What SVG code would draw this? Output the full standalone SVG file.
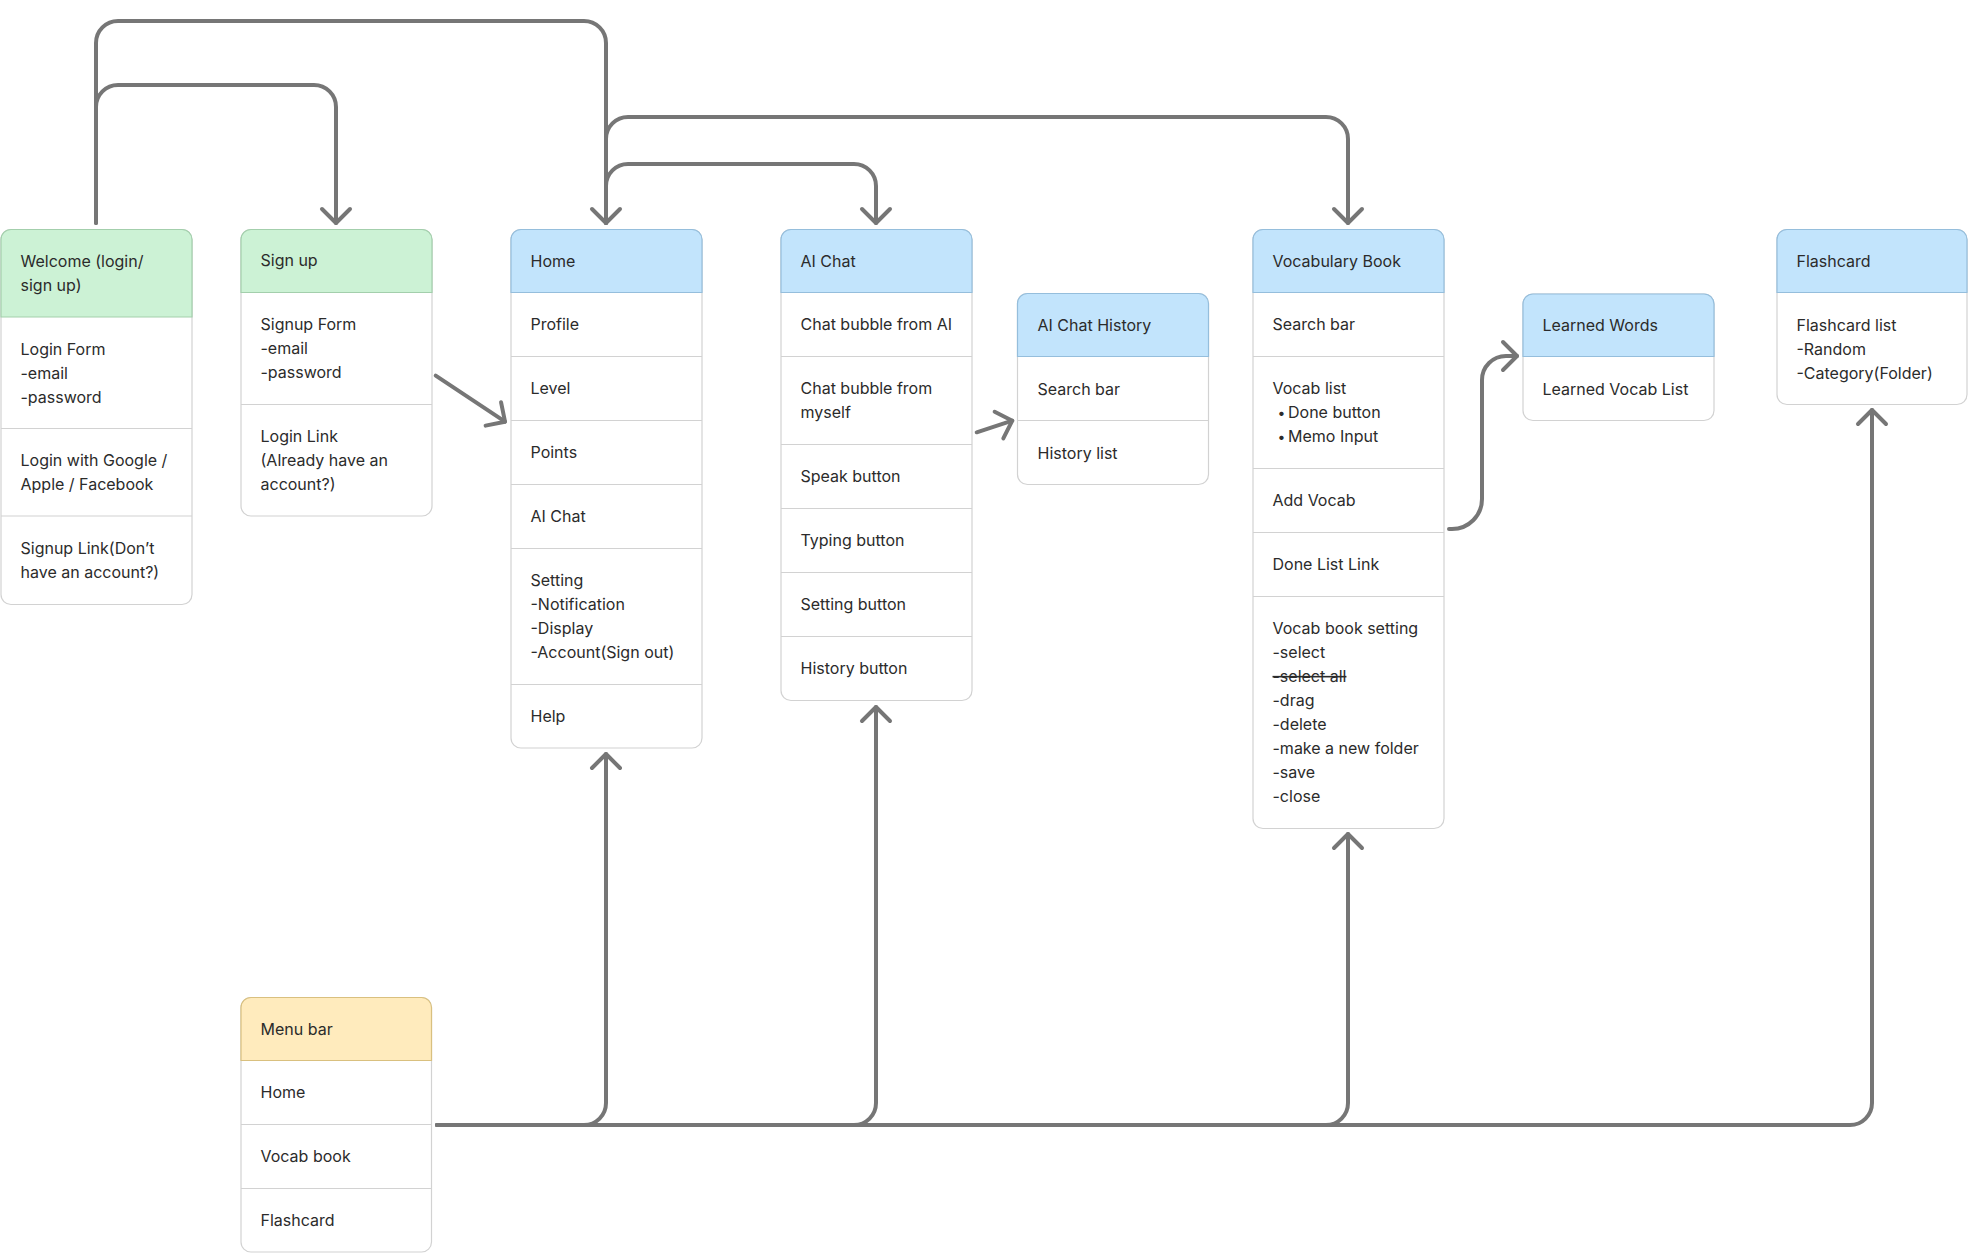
<svg xmlns="http://www.w3.org/2000/svg" width="1968" height="1253" viewBox="0 0 1968 1253">
<defs>
<style>
.body{fill:#ffffff;stroke:#d2d2d2;stroke-width:1.2}
.hg{fill:#ccf2d5;stroke:#a3cfac;stroke-width:1.2}
.hb{fill:#c2e4fc;stroke:#95bedc;stroke-width:1.2}
.hy{fill:#ffebbd;stroke:#d9c07f;stroke-width:1.2}
.div{stroke:#d2d2d2;stroke-width:1.2}
text{font-family:Inter,"Noto Sans","Liberation Sans",sans-serif;font-size:16px;fill:#2b2b2b;transform:translate(0px,-1px)}
.conn path{fill:none;stroke:#767676;stroke-width:4;stroke-linecap:round;stroke-linejoin:round}
.strike{text-decoration:line-through}
</style>
<marker id="arr" markerUnits="userSpaceOnUse" markerWidth="40" markerHeight="40" viewBox="-20 -20 40 40" refX="0" refY="0" orient="auto">
<path d="M-14,-14 L0,0 L-14,14" fill="none" stroke="#767676" stroke-width="4" stroke-linecap="round" stroke-linejoin="round"/>
</marker>
</defs>
<rect width="1968" height="1253" fill="#ffffff"/>

<g id="connectors" class="conn">
<path d="M96,223 V43 A22,22 0 0 1 118,21 H584 A22,22 0 0 1 606,43 V223" marker-end="url(#arr)"/>
<path d="M96,223 V107 A22,22 0 0 1 118,85 H314 A22,22 0 0 1 336,107 V223" marker-end="url(#arr)"/>
<path d="M606,223 V186 A22,22 0 0 1 628,164 H854 A22,22 0 0 1 876,186 V223" marker-end="url(#arr)"/>
<path d="M606,223 V139 A22,22 0 0 1 628,117 H1326 A22,22 0 0 1 1348,139 V223" marker-end="url(#arr)"/>
<path d="M435.7,375.7 L505,421.7" marker-end="url(#arr)"/>
<path d="M976.7,432.3 L1012.3,420.7" marker-end="url(#arr)"/>
<path d="M1449,529 H1452 A30,30 0 0 0 1482,499 V380 A24,24 0 0 1 1506,356 H1517" marker-end="url(#arr)"/>
<path d="M437,1125 H1850 A22,22 0 0 0 1872,1103 V410" marker-end="url(#arr)"/>
<path d="M437,1125 H584 A22,22 0 0 0 606,1103 V754" marker-end="url(#arr)"/>
<path d="M437,1125 H854 A22,22 0 0 0 876,1103 V707" marker-end="url(#arr)"/>
<path d="M437,1125 H1326 A22,22 0 0 0 1348,1103 V834" marker-end="url(#arr)"/>
</g>

<g id="welcome">
<rect class="body" x="1" y="229.5" width="191" height="375" rx="10"/>
<path class="hg" d="M1,317 V239.5 A10,10 0 0 1 11,229.5 H182 A10,10 0 0 1 192,239.5 V317 Z"/>
<line class="div" x1="1" y1="428.5" x2="192" y2="428.5"/>
<line class="div" x1="1" y1="516" x2="192" y2="516"/>
<text x="20.5" y="267.5">Welcome (login/</text>
<text x="20.5" y="291.5">sign up)</text>
<text x="20.5" y="355.5">Login Form</text>
<text x="20.5" y="379.5">-email</text>
<text x="20.5" y="403.5">-password</text>
<text x="20.5" y="467">Login with Google /</text>
<text x="20.5" y="491">Apple / Facebook</text>
<text x="20.5" y="554.5">Signup Link(Don’t</text>
<text x="20.5" y="578.5">have an account?)</text>
</g>

<g id="signup">
<rect class="body" x="241" y="229.5" width="191" height="286.5" rx="10"/>
<path class="hg" d="M241,292.5 V239.5 A10,10 0 0 1 251,229.5 H422 A10,10 0 0 1 432,239.5 V292.5 Z"/>
<line class="div" x1="241" y1="404.5" x2="432" y2="404.5"/>
<text x="260.5" y="267">Sign up</text>
<text x="260.5" y="331">Signup Form</text>
<text x="260.5" y="355">-email</text>
<text x="260.5" y="379">-password</text>
<text x="260.5" y="443">Login Link</text>
<text x="260.5" y="467">(Already have an</text>
<text x="260.5" y="491">account?)</text>
</g>

<g id="home">
<rect class="body" x="511" y="229.5" width="191" height="518.5" rx="10"/>
<path class="hb" d="M511,292.5 V239.5 A10,10 0 0 1 521,229.5 H692 A10,10 0 0 1 702,239.5 V292.5 Z"/>
<line class="div" x1="511" y1="356.5" x2="702" y2="356.5"/>
<line class="div" x1="511" y1="420.5" x2="702" y2="420.5"/>
<line class="div" x1="511" y1="484.5" x2="702" y2="484.5"/>
<line class="div" x1="511" y1="548.5" x2="702" y2="548.5"/>
<line class="div" x1="511" y1="684.5" x2="702" y2="684.5"/>
<text x="530.5" y="267.5">Home</text>
<text x="530.5" y="331">Profile</text>
<text x="530.5" y="395">Level</text>
<text x="530.5" y="459">Points</text>
<text x="530.5" y="523">AI Chat</text>
<text x="530.5" y="587">Setting</text>
<text x="530.5" y="611">-Notification</text>
<text x="530.5" y="635">-Display</text>
<text x="530.5" y="659">-Account(Sign out)</text>
<text x="530.5" y="723">Help</text>
</g>

<g id="aichat">
<rect class="body" x="781" y="229.5" width="191" height="471" rx="10"/>
<path class="hb" d="M781,292.5 V239.5 A10,10 0 0 1 791,229.5 H962 A10,10 0 0 1 972,239.5 V292.5 Z"/>
<line class="div" x1="781" y1="356.5" x2="972" y2="356.5"/>
<line class="div" x1="781" y1="444.5" x2="972" y2="444.5"/>
<line class="div" x1="781" y1="508.5" x2="972" y2="508.5"/>
<line class="div" x1="781" y1="572.5" x2="972" y2="572.5"/>
<line class="div" x1="781" y1="636.5" x2="972" y2="636.5"/>
<text x="800.5" y="267.5">AI Chat</text>
<text x="800.5" y="331">Chat bubble from AI</text>
<text x="800.5" y="395">Chat bubble from</text>
<text x="800.5" y="419">myself</text>
<text x="800.5" y="483">Speak button</text>
<text x="800.5" y="547">Typing button</text>
<text x="800.5" y="611">Setting button</text>
<text x="800.5" y="675">History button</text>
</g>

<g id="aichathistory">
<rect class="body" x="1017.5" y="293.5" width="191" height="191" rx="10"/>
<path class="hb" d="M1017.5,356.5 V303.5 A10,10 0 0 1 1027.5,293.5 H1198.5 A10,10 0 0 1 1208.5,303.5 V356.5 Z"/>
<line class="div" x1="1017.5" y1="420.5" x2="1208.5" y2="420.5"/>
<text x="1037.5" y="331.5">AI Chat History</text>
<text x="1037.5" y="395.5">Search bar</text>
<text x="1037.5" y="459.5">History list</text>
</g>

<g id="vocabbook">
<rect class="body" x="1253" y="229.5" width="191" height="599" rx="10"/>
<path class="hb" d="M1253,292.5 V239.5 A10,10 0 0 1 1263,229.5 H1434 A10,10 0 0 1 1444,239.5 V292.5 Z"/>
<line class="div" x1="1253" y1="356.5" x2="1444" y2="356.5"/>
<line class="div" x1="1253" y1="468.5" x2="1444" y2="468.5"/>
<line class="div" x1="1253" y1="532.5" x2="1444" y2="532.5"/>
<line class="div" x1="1253" y1="596.5" x2="1444" y2="596.5"/>
<text x="1272.5" y="267.5">Vocabulary Book</text>
<text x="1272.5" y="331">Search bar</text>
<text x="1272.5" y="395">Vocab list</text>
<text y="419"><tspan x="1277.5" font-size="14">•</tspan><tspan x="1288">Done button</tspan></text>
<text y="443"><tspan x="1277.5" font-size="14">•</tspan><tspan x="1288">Memo Input</tspan></text>
<text x="1272.5" y="507">Add Vocab</text>
<text x="1272.5" y="571">Done List Link</text>
<text x="1272.5" y="635">Vocab book setting</text>
<text x="1272.5" y="659">-select</text>
<text x="1272.5" y="683" class="strike">-select all</text>
<text x="1272.5" y="707">-drag</text>
<text x="1272.5" y="731">-delete</text>
<text x="1272.5" y="755">-make a new folder</text>
<text x="1272.5" y="779">-save</text>
<text x="1272.5" y="803">-close</text>
</g>

<g id="learnedwords">
<rect class="body" x="1523" y="294" width="191" height="126.5" rx="10"/>
<path class="hb" d="M1523,356.5 V304 A10,10 0 0 1 1533,294 H1704 A10,10 0 0 1 1714,304 V356.5 Z"/>
<text x="1542.5" y="332">Learned Words</text>
<text x="1542.5" y="395.5">Learned Vocab List</text>
</g>

<g id="flashcard">
<rect class="body" x="1777" y="229.5" width="190" height="175" rx="10"/>
<path class="hb" d="M1777,292.5 V239.5 A10,10 0 0 1 1787,229.5 H1957 A10,10 0 0 1 1967,239.5 V292.5 Z"/>
<text x="1796.5" y="267.5">Flashcard</text>
<text x="1796.5" y="331.5">Flashcard list</text>
<text x="1796.5" y="355.5">-Random</text>
<text x="1796.5" y="379.5">-Category(Folder)</text>
</g>

<g id="menubar">
<rect class="body" x="241" y="997.5" width="190.5" height="254.5" rx="10"/>
<path class="hy" d="M241,1060.5 V1007.5 A10,10 0 0 1 251,997.5 H421.5 A10,10 0 0 1 431.5,1007.5 V1060.5 Z"/>
<line class="div" x1="241" y1="1124.5" x2="431.5" y2="1124.5"/>
<line class="div" x1="241" y1="1188.5" x2="431.5" y2="1188.5"/>
<text x="260.5" y="1035.5">Menu bar</text>
<text x="260.5" y="1099">Home</text>
<text x="260.5" y="1163">Vocab book</text>
<text x="260.5" y="1227">Flashcard</text>
</g>
</svg>
